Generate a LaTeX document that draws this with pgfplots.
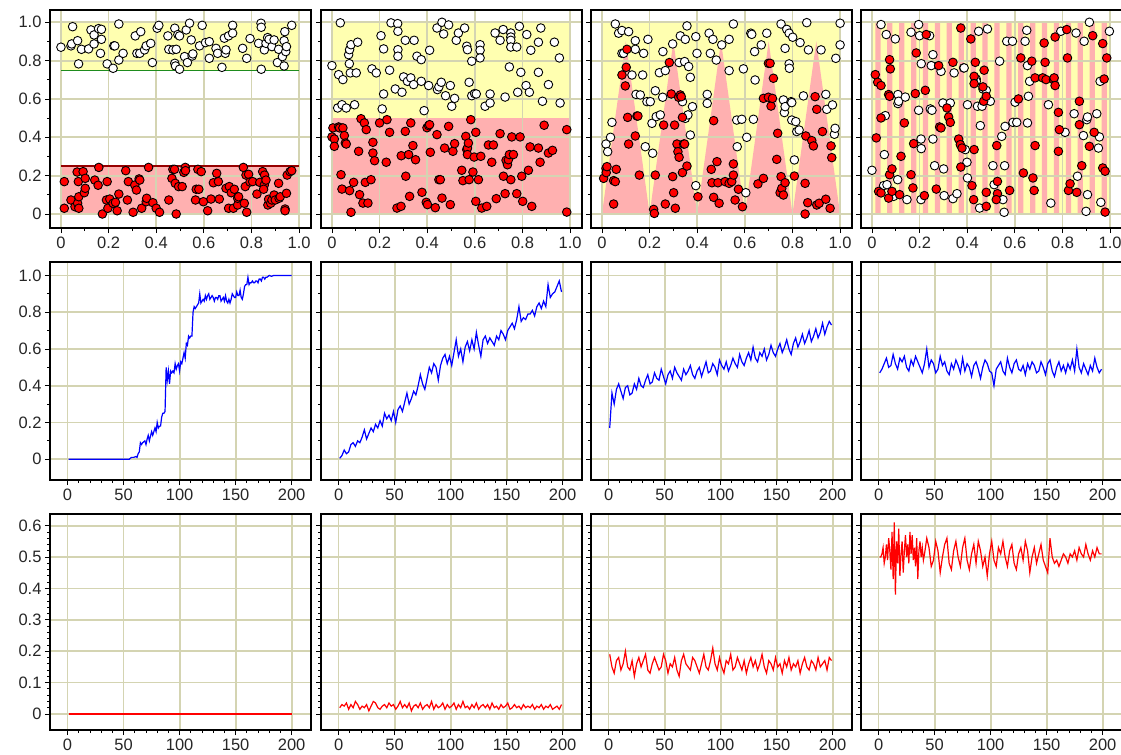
\documentclass[border=0pt]{standalone}
\usepackage{fontspec}
\setmainfont{Liberation Sans}
\usepackage{pgfplots}
\pgfplotsset{compat=1.18}
\definecolor{yel}{RGB}{255,255,176}
\definecolor{pnk}{RGB}{255,176,176}
\definecolor{gridc}{RGB}{212,212,178}
\definecolor{grn}{RGB}{30,140,30}
\definecolor{dred}{RGB}{150,0,0}
\pgfplotsset{
  base/.style={scale only axis, width=261bp, anchor=north west,
    axis line style={line width=2.6bp, black},
    grid=major, major grid style={color=gridc, line width=1.8bp},
    tick align=outside, tick pos=left,
    major tick length=5bp, minor tick length=3bp,
    every tick/.style={black, line width=0.8bp},
    tick label style={font=\fontsize{16.5bp}{18bp}\selectfont, color=black!85},
    /pgf/number format/assume math mode=true,
    set layers=standard},
  row1/.style={base, height=218bp, xmin=-0.046, xmax=1.05, ymin=-0.073, ymax=1.064,
    xtick={0,0.2,0.4,0.6,0.8,1}, xticklabels={0,0.2,0.4,0.6,0.8,1.0},
    ytick={0,0.2,0.4,0.6,0.8,1}, yticklabels={0,0.2,0.4,0.6,0.8,1.0},
    minor x tick num=1, minor y tick num=1},
  row2/.style={base, height=218bp, xmin=-15.7, xmax=217.3, ymin=-0.113, ymax=1.073,
    xtick={0,50,100,150,200}, minor x tick num=4,
    ytick={0,0.2,0.4,0.6,0.8,1}, yticklabels={0,0.2,0.4,0.6,0.8,1.0}, minor y tick num=1},
  row3/.style={base, height=216bp, xmin=-15.7, xmax=217.3, ymin=-0.051, ymax=0.637,
    xtick={0,50,100,150,200}, minor x tick num=4,
    ytick={0,0.1,0.2,0.3,0.4,0.5,0.6}, yticklabels={0,0.1,0.2,0.3,0.4,0.5,0.6}, minor y tick num=4},
  nolab/.style={yticklabels={}},
  wpt/.style={only marks, mark=*, mark size=4.3bp, mark options={fill=white, draw=black, line width=0.9bp}},
  rpt/.style={only marks, mark=*, mark size=4.3bp, mark options={fill=red, draw=black, line width=0.9bp}},
  bg/.style={on layer=axis background, draw=none},
  bl/.style={blue, line width=1.2bp, mark=none},
  rl/.style={red, line width=1.2bp, mark=none},
}
\begin{document}
\begin{tikzpicture}
% ---------------- Row 1 ----------------
\begin{axis}[row1, at={(50bp,-10bp)}]
\addplot[bg, fill=yel] coordinates {(0,0.75)(1,0.75)(1,1)(0,1)(0,0.75)};
\addplot[bg, fill=pnk] coordinates {(0,0)(1,0)(1,0.25)(0,0.25)(0,0)};
\addplot[grn, line width=1.3bp] coordinates {(0,0.75)(1,0.75)};
\addplot[dred, line width=1.3bp] coordinates {(0,0.25)(1,0.25)};
\addplot[wpt] coordinates {(0,0.870)(0.042,0.877)(0.045,0.887)(0.049,0.977)(0.070,0.904)(0.074,0.783)(0.086,0.859)(0.116,0.861)(0.126,0.960)(0.139,0.934)(0.139,0.887)(0.158,0.967)(0.166,0.838)(0.170,0.911)(0.170,0.963)(0.194,0.783)(0.219,0.760)(0.222,0.877)(0.226,0.877)(0.243,0.991)(0.243,0.803)(0.261,0.838)(0.312,0.929)(0.319,0.838)(0.331,0.838)(0.335,0.951)(0.351,0.856)(0.358,0.877)(0.377,0.890)(0.384,0.790)(0.404,0.969)(0.411,0.984)(0.449,0.929)(0.453,0.859)(0.470,0.856)(0.478,0.969)(0.478,0.786)(0.481,0.772)(0.484,0.859)(0.491,0.936)(0.498,0.755)(0.498,0.929)(0.519,0.821)(0.526,0.960)(0.531,0.790)(0.540,0.995)(0.547,0.908)(0.551,0.824)(0.554,0.835)(0.582,0.877)(0.593,0.984)(0.607,0.894)(0.623,0.899)(0.623,0.812)(0.651,0.864)(0.658,0.838)(0.676,0.765)(0.686,0.917)(0.690,0.838)(0.693,0.856)(0.704,0.929)(0.721,0.984)(0.721,0.943)(0.763,0.864)(0.780,0.812)(0.794,0.915)(0.830,0.890)(0.840,0.995)(0.841,0.974)(0.841,0.755)(0.854,0.856)(0.861,0.890)(0.868,0.920)(0.874,0.911)(0.886,0.873)(0.895,0.908)(0.909,0.790)(0.914,0.859)(0.937,0.904)(0.930,0.821)(0.937,0.772)(0.940,0.951)(0.944,0.847)(0.947,0.873)(0.969,0.984)};
\addplot[rpt] coordinates {(0.014,0.169)(0.014,0.030)(0.042,0.073)(0.059,0.038)(0.068,0.219)(0.070,0.056)(0.073,0.169)(0.075,0.090)(0.075,0.030)(0.093,0.221)(0.098,0.111)(0.102,0.186)(0.102,0.134)(0.159,0.243)(0.142,0.177)(0.156,0.150)(0.174,0.0)(0.191,0.073)(0.194,0.169)(0.197,0.030)(0.205,0.078)(0.219,0.056)(0.229,0.061)(0.236,0.017)(0.243,0.104)(0.272,0.226)(0.279,0.073)(0.283,0.169)(0.303,0.009)(0.310,0.151)(0.317,0.125)(0.328,0.183)(0.331,0.177)(0.339,0.030)(0.358,0.064)(0.360,0.082)(0.368,0.243)(0.386,0.059)(0.400,0.030)(0.414,0.009)(0.453,0.073)(0.466,0.186)(0.470,0.233)(0.477,0.233)(0.480,0.160)(0.484,0.0)(0.494,0.143)(0.509,0.143)(0.516,0.217)(0.522,0.243)(0.523,0.226)(0.565,0.073)(0.568,0.129)(0.575,0.233)(0.579,0.129)(0.589,0.221)(0.598,0.064)(0.616,0.017)(0.630,0.078)(0.640,0.163)(0.654,0.212)(0.661,0.169)(0.665,0.078)(0.693,0.134)(0.704,0.030)(0.707,0.143)(0.715,0.111)(0.724,0.030)(0.728,0.129)(0.742,0.047)(0.742,0.082)(0.746,0.090)(0.766,0.243)(0.770,0.056)(0.774,0.143)(0.777,0.203)(0.780,0.009)(0.788,0.207)(0.794,0.167)(0.805,0.169)(0.823,0.104)(0.835,0.165)(0.847,0.221)(0.854,0.151)(0.851,0.129)(0.855,0.203)(0.861,0.177)(0.869,0.047)(0.872,0.077)(0.881,0.056)(0.886,0.073)(0.895,0.099)(0.900,0.073)(0.914,0.160)(0.916,0.082)(0.921,0.090)(0.941,0.026)(0.941,0.017)(0.947,0.108)(0.950,0.203)(0.962,0.221)(0.969,0.226)};
\end{axis}
\begin{axis}[row1, nolab, at={(321bp,-10bp)}]
\addplot[bg, fill=yel] coordinates {(0,0.5)(1,0.5)(1,1)(0,1)(0,0.5)};
\addplot[bg, fill=pnk] coordinates {(0,0)(1,0)(1,0.5)(0,0.5)(0,0)};
\addplot[wpt] coordinates {(0.035,0.997)(0.000,0.774)(0.028,0.727)(0.046,0.701)(0.070,0.831)(0.073,0.784)(0.074,0.857)(0.080,0.883)(0.077,0.736)(0.102,0.736)(0.108,0.896)(0.024,0.553)(0.042,0.570)(0.060,0.553)(0.095,0.570)(0.168,0.757)(0.186,0.736)(0.206,0.930)(0.217,0.861)(0.217,0.626)(0.211,0.548)(0.242,0.750)(0.248,0.997)(0.266,0.652)(0.276,0.993)(0.277,0.953)(0.277,0.857)(0.277,0.823)(0.294,0.635)(0.301,0.715)(0.308,0.906)(0.317,0.692)(0.331,0.710)(0.343,0.675)(0.345,0.906)(0.357,0.823)(0.375,0.805)(0.375,0.692)(0.387,0.539)(0.406,0.670)(0.410,0.854)(0.441,0.970)(0.443,0.649)(0.449,0.663)(0.459,0.687)(0.462,1.0)(0.469,0.939)(0.477,0.617)(0.490,0.986)(0.497,0.670)(0.503,0.562)(0.515,0.603)(0.522,0.906)(0.531,0.944)(0.557,0.970)(0.566,0.875)(0.569,0.857)(0.576,0.687)(0.587,0.797)(0.587,0.617)(0.599,0.628)(0.606,0.626)(0.622,0.883)(0.622,0.854)(0.622,0.814)(0.643,0.562)(0.664,0.626)(0.664,0.579)(0.685,0.944)(0.706,0.906)(0.719,0.962)(0.727,0.610)(0.745,0.767)(0.751,0.944)(0.751,0.923)(0.751,0.906)(0.751,0.871)(0.776,0.871)(0.780,0.635)(0.787,0.979)(0.793,0.739)(0.815,0.670)(0.818,0.936)(0.829,0.635)(0.835,0.854)(0.867,0.896)(0.867,0.739)(0.877,0.970)(0.884,0.588)(0.909,0.675)(0.934,0.896)(0.955,0.814)(0.958,0.579)};
\addplot[rpt] coordinates {(0.0,0.402)(0.004,0.449)(0.010,0.391)(0.010,0.353)(0.028,0.454)(0.032,0.449)(0.038,0.205)(0.042,0.130)(0.046,0.449)(0.052,0.409)(0.056,0.370)(0.060,0.365)(0.074,0.122)(0.080,0.009)(0.091,0.165)(0.112,0.327)(0.116,0.101)(0.122,0.497)(0.130,0.057)(0.136,0.475)(0.140,0.165)(0.144,0.440)(0.151,0.057)(0.164,0.179)(0.172,0.374)(0.172,0.318)(0.179,0.278)(0.200,0.475)(0.228,0.270)(0.231,0.492)(0.242,0.426)(0.273,0.031)(0.290,0.040)(0.291,0.304)(0.308,0.431)(0.310,0.197)(0.322,0.310)(0.326,0.092)(0.331,0.475)(0.340,0.357)(0.351,0.283)(0.378,0.113)(0.396,0.061)(0.399,0.450)(0.401,0.049)(0.406,0.461)(0.410,0.466)(0.413,0.322)(0.434,0.033)(0.441,0.414)(0.449,0.179)(0.455,0.179)(0.462,0.083)(0.473,0.344)(0.490,0.457)(0.497,0.049)(0.508,0.327)(0.515,0.367)(0.545,0.228)(0.550,0.174)(0.562,0.405)(0.566,0.336)(0.569,0.344)(0.569,0.310)(0.573,0.370)(0.576,0.179)(0.583,0.492)(0.592,0.219)(0.597,0.297)(0.604,0.426)(0.604,0.066)(0.615,0.179)(0.625,0.301)(0.629,0.031)(0.650,0.040)(0.657,0.360)(0.671,0.270)(0.678,0.360)(0.690,0.080)(0.706,0.419)(0.720,0.197)(0.727,0.106)(0.731,0.280)(0.737,0.257)(0.741,0.283)(0.745,0.310)(0.751,0.179)(0.755,0.402)(0.762,0.310)(0.776,0.106)(0.790,0.402)(0.797,0.197)(0.801,0.066)(0.825,0.228)(0.832,0.350)(0.839,0.040)(0.867,0.344)(0.874,0.270)(0.891,0.463)(0.909,0.318)(0.926,0.332)(0.986,0.440)(0.986,0.010)};
\end{axis}
\begin{axis}[row1, nolab, at={(591bp,-10bp)}]
\addplot[bg, fill=yel] coordinates {(0,0)(1,0)(1,1)(0,1)(0,0)};
\addplot[bg, fill=pnk] coordinates {(0,0)(0.1,0.9)(0.2,0)(0.3,0.9)(0.4,0)(0.5,0.9)(0.6,0)(0.7,0.9)(0.8,0)(0.9,0.9)(1,0)(0,0)};
\addplot[wpt] coordinates {(0.017,0.365)(0.024,0.325)(0.036,0.400)(0.042,0.478)(0.056,0.991)(0.070,0.943)(0.084,0.957)(0.084,0.838)(0.091,0.838)(0.112,0.951)(0.126,0.725)(0.140,0.904)(0.140,0.859)(0.143,0.624)(0.161,0.621)(0.171,0.725)(0.175,0.838)(0.182,0.351)(0.189,0.586)(0.193,0.911)(0.203,0.586)(0.210,0.473)(0.213,0.317)(0.224,0.643)(0.228,0.508)(0.241,0.737)(0.245,0.517)(0.255,0.609)(0.256,0.847)(0.266,0.748)(0.297,0.887)(0.324,0.790)(0.329,0.929)(0.338,0.586)(0.347,0.795)(0.350,0.911)(0.357,0.981)(0.350,0.499)(0.361,0.517)(0.364,0.769)(0.371,0.713)(0.371,0.412)(0.380,0.560)(0.394,0.925)(0.394,0.148)(0.399,0.838)(0.442,0.624)(0.442,0.577)(0.450,0.943)(0.455,0.838)(0.466,0.911)(0.480,0.803)(0.503,0.882)(0.534,0.748)(0.534,0.911)(0.552,0.991)(0.566,0.490)(0.568,0.351)(0.587,0.494)(0.594,0.757)(0.608,0.400)(0.604,0.111)(0.625,0.943)(0.629,0.937)(0.636,0.494)(0.641,0.847)(0.643,0.699)(0.669,0.882)(0.692,0.943)(0.752,0.991)(0.762,0.595)(0.766,0.529)(0.769,0.864)(0.769,0.560)(0.776,0.963)(0.786,0.943)(0.786,0.783)(0.787,0.760)(0.794,0.586)(0.797,0.581)(0.797,0.490)(0.801,0.922)(0.808,0.282)(0.814,0.482)(0.818,0.430)(0.828,0.438)(0.832,0.894)(0.846,0.616)(0.860,0.998)(0.867,0.856)(0.920,0.856)(0.944,0.546)(0.940,0.624)(0.968,0.569)(0.976,0.416)(0.979,0.447)(0.982,0.812)(1.000,0.995)(1.000,0.882)};
\addplot[rpt] coordinates {(0.007,0.186)(0.017,0.238)(0.018,0.216)(0.021,0.247)(0.049,0.174)(0.056,0.169)(0.060,0.233)(0.049,0.052)(0.084,0.725)(0.098,0.668)(0.102,0.765)(0.105,0.859)(0.108,0.504)(0.112,0.365)(0.140,0.407)(0.147,0.511)(0.151,0.511)(0.157,0.203)(0.217,0.024)(0.220,0.003)(0.224,0.203)(0.259,0.464)(0.266,0.052)(0.283,0.790)(0.291,0.626)(0.297,0.195)(0.301,0.111)(0.305,0.464)(0.308,0.030)(0.315,0.365)(0.319,0.325)(0.322,0.609)(0.324,0.296)(0.329,0.621)(0.333,0.612)(0.338,0.504)(0.338,0.216)(0.343,0.365)(0.347,0.365)(0.357,0.250)(0.403,0.090)(0.459,0.233)(0.462,0.163)(0.469,0.487)(0.469,0.087)(0.483,0.273)(0.487,0.163)(0.492,0.056)(0.517,0.169)(0.534,0.160)(0.545,0.169)(0.552,0.261)(0.552,0.203)(0.559,0.073)(0.573,0.129)(0.590,0.038)(0.655,0.157)(0.678,0.186)(0.678,0.603)(0.699,0.609)(0.699,0.786)(0.706,0.786)(0.710,0.563)(0.716,0.603)(0.720,0.708)(0.734,0.285)(0.738,0.421)(0.748,0.111)(0.752,0.195)(0.755,0.134)(0.762,0.099)(0.769,0.163)(0.808,0.198)(0.856,0.407)(0.853,0.160)(0.864,0.059)(0.881,0.383)(0.888,0.355)(0.895,0.612)(0.902,0.546)(0.902,0.047)(0.912,0.056)(0.926,0.430)(0.940,0.077)(0.958,0.030)(0.962,0.355)(0.965,0.294)(0.853,0.0)};
\end{axis}
\begin{axis}[row1, nolab, at={(861bp,-10bp)}]
\addplot[bg, fill=yel] coordinates {(0,0)(1,0)(1,1)(0,1)(0,0)};
\addplot[bg, fill=pnk] coordinates {(0.014,0)(0.014,1)(0.036,1)(0.036,0)(0.064,0)(0.064,1)(0.086,1)(0.086,0)(0.114,0)(0.114,1)(0.136,1)(0.136,0)(0.164,0)(0.164,1)(0.186,1)(0.186,0)(0.214,0)(0.214,1)(0.236,1)(0.236,0)(0.264,0)(0.264,1)(0.286,1)(0.286,0)(0.314,0)(0.314,1)(0.336,1)(0.336,0)(0.364,0)(0.364,1)(0.386,1)(0.386,0)(0.414,0)(0.414,1)(0.436,1)(0.436,0)(0.464,0)(0.464,1)(0.486,1)(0.486,0)(0.514,0)(0.514,1)(0.536,1)(0.536,0)(0.564,0)(0.564,1)(0.586,1)(0.586,0)(0.614,0)(0.614,1)(0.636,1)(0.636,0)(0.664,0)(0.664,1)(0.686,1)(0.686,0)(0.714,0)(0.714,1)(0.736,1)(0.736,0)(0.764,0)(0.764,1)(0.786,1)(0.786,0)(0.814,0)(0.814,1)(0.836,1)(0.836,0)(0.864,0)(0.864,1)(0.886,1)(0.886,0)(0.914,0)(0.914,1)(0.936,1)(0.936,0)(0.964,0)(0.964,1)(0.986,1)(0.986,0)(0.014,0)};
\addplot[wpt] coordinates {(0.0,0.228)(0.038,0.988)(0.049,0.148)(0.052,0.310)(0.060,0.936)(0.063,0.153)(0.056,0.513)(0.091,0.092)(0.098,0.913)(0.109,0.623)(0.109,0.576)(0.112,0.588)(0.108,0.179)(0.140,0.610)(0.147,0.075)(0.164,0.948)(0.196,0.988)(0.196,0.541)(0.200,0.930)(0.206,0.391)(0.207,0.341)(0.207,0.784)(0.206,0.075)(0.242,0.930)(0.245,0.548)(0.249,0.774)(0.252,0.541)(0.256,0.391)(0.256,0.831)(0.263,0.252)(0.298,0.579)(0.290,0.744)(0.301,0.235)(0.303,0.096)(0.329,0.579)(0.340,0.080)(0.345,0.736)(0.357,0.106)(0.385,0.762)(0.387,0.762)(0.399,0.270)(0.401,0.570)(0.401,0.188)(0.392,0.336)(0.438,0.704)(0.438,0.692)(0.448,0.953)(0.443,0.562)(0.452,0.031)(0.455,0.461)(0.462,0.562)(0.466,0.652)(0.480,0.645)(0.485,0.965)(0.497,0.588)(0.508,0.252)(0.513,0.153)(0.536,0.797)(0.545,0.405)(0.550,0.075)(0.555,0.009)(0.557,0.252)(0.559,0.457)(0.566,0.901)(0.590,0.901)(0.592,0.478)(0.601,0.583)(0.608,0.478)(0.643,0.901)(0.650,0.958)(0.653,0.475)(0.653,0.774)(0.657,0.614)(0.662,0.692)(0.751,0.057)(0.741,0.570)(0.793,0.953)(0.811,0.426)(0.849,0.523)(0.857,0.944)(0.863,0.197)(0.891,0.901)(0.888,0.409)(0.902,0.492)(0.905,0.506)(0.905,0.101)(0.899,0.014)(0.913,1.0)(0.944,0.523)(0.951,0.344)(0.955,0.402)(0.958,0.692)(0.961,0.061)(0.997,0.953)};
\addplot[rpt] coordinates {(0.014,0.727)(0.018,0.397)(0.024,0.687)(0.028,0.118)(0.038,0.670)(0.038,0.110)(0.038,0.501)(0.070,0.083)(0.070,0.623)(0.074,0.614)(0.074,0.805)(0.077,0.757)(0.074,0.205)(0.084,0.235)(0.084,0.118)(0.116,0.101)(0.122,0.301)(0.136,0.475)(0.164,0.205)(0.172,0.136)(0.175,0.367)(0.182,0.628)(0.186,0.840)(0.220,0.096)(0.224,0.645)(0.228,0.936)(0.270,0.130)(0.280,0.774)(0.284,0.454)(0.290,0.449)(0.315,0.553)(0.322,0.506)(0.329,0.478)(0.340,0.791)(0.364,0.391)(0.371,0.362)(0.373,0.245)(0.378,0.344)(0.373,0.970)(0.415,0.913)(0.420,0.148)(0.427,0.075)(0.429,0.336)(0.434,0.791)(0.429,0.718)(0.429,0.680)(0.466,0.663)(0.471,0.750)(0.469,0.588)(0.480,0.113)(0.480,0.614)(0.480,0.040)(0.524,0.357)(0.527,0.106)(0.527,0.170)(0.522,0.075)(0.578,0.123)(0.615,0.600)(0.625,0.814)(0.636,0.214)(0.671,0.797)(0.676,0.188)(0.681,0.123)(0.685,0.357)(0.685,0.710)(0.717,0.710)(0.727,0.791)(0.723,0.892)(0.731,0.701)(0.762,0.701)(0.765,0.710)(0.769,0.670)(0.769,0.923)(0.783,0.530)(0.787,0.440)(0.783,0.327)(0.818,0.962)(0.821,0.814)(0.825,0.123)(0.832,0.158)(0.860,0.113)(0.871,0.588)(0.871,0.466)(0.881,0.252)(0.913,0.353)(0.927,0.930)(0.933,0.426)(0.969,0.889)(0.975,0.704)(0.969,0.240)(0.979,0.223)(0.979,0.010)(0.986,0.814)};
\end{axis}
% ---------------- Row 2 ----------------
\begin{axis}[row2, at={(50bp,-262bp)}]
\addplot[bl] coordinates {(1,0)(55,0)(57,0.01)(59,0.01)(61,0.015)(62,0.01)(63,0.03)(64,0.04)(65,0.09)(66,0.08)(67,0.09)(69,0.10)(70,0.08)(71,0.11)(72,0.13)(73,0.10)(75,0.15)(76,0.13)(77,0.15)(78,0.17)(79,0.15)(80,0.20)(81,0.17)(82,0.18)(83,0.18)(84,0.23)(85,0.25)(86,0.25)(87,0.26)(88,0.50)(89,0.43)(90,0.48)(91,0.41)(92,0.48)(93,0.47)(94,0.48)(95,0.47)(96,0.52)(97,0.49)(98,0.51)(99,0.52)(100,0.48)(101,0.53)(102,0.52)(103,0.55)(104,0.58)(105,0.55)(106,0.63)(107,0.62)(108,0.67)(109,0.66)(110,0.67)(111,0.67)(112,0.80)(113,0.83)(114,0.82)(115,0.83)(116,0.84)(117,0.85)(118,0.90)(119,0.85)(120,0.86)(121,0.87)(122,0.86)(123,0.89)(124,0.87)(125,0.89)(126,0.90)(127,0.87)(128,0.88)(129,0.89)(130,0.88)(131,0.86)(132,0.88)(133,0.88)(134,0.87)(135,0.89)(136,0.89)(137,0.86)(138,0.87)(139,0.88)(140,0.86)(141,0.89)(142,0.86)(143,0.85)(144,0.87)(145,0.85)(146,0.87)(147,0.90)(148,0.89)(149,0.88)(150,0.88)(151,0.91)(152,0.89)(153,0.89)(154,0.92)(155,0.88)(156,0.87)(157,0.90)(158,0.94)(159,0.95)(160,0.95)(161,0.99)(162,0.95)(163,0.96)(164,0.96)(165,0.97)(166,0.96)(167,0.96)(168,0.97)(169,0.97)(170,0.96)(171,0.98)(172,0.98)(173,0.97)(174,0.99)(175,0.99)(176,0.98)(177,0.99)(178,0.99)(179,0.995)(180,1.0)(182,0.995)(184,1.0)(200,1.0)};
\end{axis}
\begin{axis}[row2, nolab, at={(321bp,-262bp)}]
\addplot[bl] coordinates {(1,0.005)(3,0.02)(5,0.05)(7,0.03)(9,0.04)(11,0.08)(13,0.09)(15,0.07)(17,0.10)(19,0.09)(21,0.12)(23,0.16)(25,0.11)(27,0.14)(29,0.17)(31,0.15)(33,0.19)(35,0.17)(37,0.21)(39,0.18)(41,0.25)(43,0.22)(45,0.24)(47,0.21)(49,0.26)(51,0.20)(53,0.27)(55,0.29)(57,0.26)(59,0.31)(61,0.36)(63,0.30)(65,0.33)(67,0.37)(69,0.35)(71,0.40)(73,0.46)(75,0.41)(77,0.38)(79,0.44)(81,0.50)(83,0.47)(85,0.52)(87,0.50)(89,0.43)(91,0.51)(93,0.55)(95,0.57)(97,0.52)(99,0.56)(101,0.51)(103,0.58)(105,0.65)(107,0.56)(109,0.60)(111,0.53)(113,0.61)(115,0.64)(117,0.59)(119,0.65)(121,0.60)(123,0.69)(125,0.62)(127,0.56)(129,0.65)(131,0.67)(133,0.63)(135,0.66)(137,0.64)(139,0.62)(141,0.67)(143,0.65)(145,0.70)(147,0.68)(149,0.65)(151,0.70)(153,0.72)(155,0.74)(157,0.71)(159,0.76)(161,0.83)(163,0.75)(165,0.77)(167,0.76)(169,0.79)(171,0.79)(173,0.81)(175,0.78)(177,0.83)(179,0.85)(181,0.82)(183,0.86)(185,0.83)(187,0.95)(189,0.88)(191,0.90)(193,0.91)(195,0.94)(197,0.97)(199,0.91)};
\end{axis}
\begin{axis}[row2, nolab, at={(591bp,-262bp)}]
\addplot[bl] coordinates {(1,0.17)(3,0.36)(5,0.30)(7,0.38)(9,0.41)(11,0.37)(13,0.33)(15,0.39)(17,0.40)(19,0.35)(21,0.36)(23,0.41)(25,0.38)(27,0.44)(29,0.40)(31,0.39)(33,0.43)(35,0.46)(37,0.41)(39,0.42)(41,0.47)(43,0.44)(45,0.43)(47,0.49)(49,0.45)(51,0.41)(53,0.46)(55,0.48)(57,0.44)(59,0.50)(61,0.47)(63,0.45)(65,0.43)(67,0.49)(69,0.46)(71,0.48)(73,0.51)(75,0.46)(77,0.44)(79,0.48)(81,0.50)(83,0.45)(85,0.49)(87,0.53)(89,0.47)(91,0.48)(93,0.52)(95,0.50)(97,0.46)(99,0.54)(101,0.51)(103,0.49)(105,0.53)(107,0.48)(109,0.51)(111,0.55)(113,0.52)(115,0.50)(117,0.57)(119,0.53)(121,0.51)(123,0.55)(125,0.58)(127,0.54)(129,0.61)(131,0.55)(133,0.53)(135,0.58)(137,0.56)(139,0.60)(141,0.54)(143,0.57)(145,0.62)(147,0.58)(149,0.56)(151,0.60)(153,0.63)(155,0.58)(157,0.61)(159,0.65)(161,0.60)(163,0.57)(165,0.63)(167,0.66)(169,0.61)(171,0.64)(173,0.68)(175,0.63)(177,0.66)(179,0.70)(181,0.64)(183,0.67)(185,0.71)(187,0.66)(189,0.69)(191,0.74)(193,0.68)(195,0.72)(197,0.75)(199,0.73)};
\end{axis}
\begin{axis}[row2, nolab, at={(861bp,-262bp)}]
\addplot[bl] coordinates {(1,0.47)(3,0.49)(5,0.52)(7,0.55)(9,0.50)(11,0.51)(13,0.57)(15,0.52)(17,0.49)(19,0.55)(21,0.53)(23,0.56)(25,0.50)(27,0.48)(29,0.54)(31,0.51)(33,0.56)(35,0.53)(37,0.50)(39,0.47)(41,0.52)(43,0.60)(45,0.50)(47,0.54)(49,0.52)(51,0.47)(53,0.49)(55,0.56)(57,0.51)(59,0.53)(61,0.48)(63,0.46)(65,0.52)(67,0.49)(69,0.54)(71,0.51)(73,0.47)(75,0.55)(77,0.48)(79,0.52)(81,0.50)(83,0.45)(85,0.51)(87,0.53)(89,0.49)(91,0.44)(93,0.50)(95,0.54)(97,0.52)(99,0.48)(101,0.47)(103,0.40)(105,0.49)(107,0.51)(109,0.53)(111,0.48)(113,0.46)(115,0.55)(117,0.50)(119,0.47)(121,0.52)(123,0.54)(125,0.49)(127,0.48)(129,0.51)(131,0.46)(133,0.52)(135,0.49)(137,0.53)(139,0.51)(141,0.47)(143,0.48)(145,0.53)(147,0.50)(149,0.46)(151,0.52)(153,0.54)(155,0.48)(157,0.45)(159,0.50)(161,0.53)(163,0.48)(165,0.51)(167,0.47)(169,0.52)(171,0.49)(173,0.54)(175,0.48)(177,0.60)(179,0.50)(181,0.47)(183,0.52)(185,0.49)(187,0.46)(189,0.51)(191,0.48)(193,0.55)(195,0.50)(197,0.47)(199,0.49)};
\end{axis}
% ---------------- Row 3 ----------------
\begin{axis}[row3, at={(50bp,-514bp)}]
\addplot[rl] coordinates {(1,0)(50,0)(100,0)(150,0)(200,0)};
\end{axis}
\begin{axis}[row3, nolab, at={(321bp,-514bp)}]
\addplot[rl] coordinates {(1,0.02)(3,0.03)(5,0.025)(7,0.035)(9,0.015)(11,0.03)(13,0.02)(15,0.04)(17,0.03)(19,0.015)(21,0.025)(23,0.02)(25,0.03)(27,0.01)(29,0.025)(31,0.04)(33,0.035)(35,0.02)(37,0.015)(39,0.025)(41,0.03)(43,0.02)(45,0.035)(47,0.025)(49,0.03)(51,0.015)(53,0.025)(55,0.04)(57,0.02)(59,0.03)(61,0.02)(63,0.035)(65,0.01)(67,0.025)(69,0.03)(71,0.02)(73,0.035)(75,0.015)(77,0.025)(79,0.03)(81,0.02)(83,0.04)(85,0.015)(87,0.03)(89,0.02)(91,0.025)(93,0.035)(95,0.015)(97,0.03)(99,0.02)(101,0.025)(103,0.035)(105,0.015)(107,0.03)(109,0.02)(111,0.04)(113,0.02)(115,0.025)(117,0.015)(119,0.03)(121,0.02)(123,0.035)(125,0.015)(127,0.025)(129,0.03)(131,0.02)(133,0.03)(135,0.015)(137,0.035)(139,0.02)(141,0.025)(143,0.015)(145,0.03)(147,0.02)(149,0.025)(151,0.035)(153,0.015)(155,0.02)(157,0.03)(159,0.02)(161,0.025)(163,0.015)(165,0.03)(167,0.02)(169,0.025)(171,0.02)(173,0.03)(175,0.015)(177,0.025)(179,0.02)(181,0.03)(183,0.015)(185,0.025)(187,0.02)(189,0.03)(191,0.015)(193,0.02)(195,0.025)(197,0.015)(199,0.03)};
\end{axis}
\begin{axis}[row3, nolab, at={(591bp,-514bp)}]
\addplot[rl] coordinates {(1,0.19)(3,0.15)(5,0.13)(7,0.17)(9,0.18)(11,0.14)(13,0.16)(15,0.20)(17,0.15)(19,0.14)(21,0.17)(23,0.12)(25,0.16)(27,0.18)(29,0.15)(31,0.17)(33,0.19)(35,0.14)(37,0.13)(39,0.16)(41,0.18)(43,0.16)(45,0.14)(47,0.15)(49,0.19)(51,0.17)(53,0.13)(55,0.16)(57,0.15)(59,0.18)(61,0.14)(63,0.12)(65,0.17)(67,0.19)(69,0.16)(71,0.15)(73,0.14)(75,0.18)(77,0.17)(79,0.15)(81,0.13)(83,0.16)(85,0.19)(87,0.15)(89,0.14)(91,0.17)(93,0.21)(95,0.16)(97,0.14)(99,0.18)(101,0.15)(103,0.13)(105,0.17)(107,0.16)(109,0.19)(111,0.14)(113,0.15)(115,0.18)(117,0.16)(119,0.14)(121,0.17)(123,0.13)(125,0.16)(127,0.18)(129,0.15)(131,0.17)(133,0.14)(135,0.16)(137,0.19)(139,0.15)(141,0.13)(143,0.17)(145,0.16)(147,0.14)(149,0.18)(151,0.15)(153,0.16)(155,0.13)(157,0.17)(159,0.15)(161,0.18)(163,0.14)(165,0.16)(167,0.15)(169,0.17)(171,0.13)(173,0.16)(175,0.18)(177,0.15)(179,0.14)(181,0.17)(183,0.16)(185,0.14)(187,0.18)(189,0.15)(191,0.16)(193,0.17)(195,0.14)(197,0.18)(199,0.17)};
\end{axis}
\begin{axis}[row3, nolab, at={(861bp,-514bp)}]
\addplot[rl] coordinates {(1,0.50)(2,0.50)(3,0.51)(4,0.53)(5,0.48)(6,0.50)(7,0.54)(8,0.49)(9,0.56)(10,0.52)(11,0.46)(12,0.58)(13,0.43)(14,0.61)(15,0.38)(16,0.55)(17,0.48)(18,0.59)(19,0.44)(20,0.51)(21,0.55)(22,0.45)(23,0.52)(24,0.57)(25,0.50)(26,0.54)(27,0.48)(28,0.58)(29,0.51)(30,0.57)(31,0.49)(32,0.53)(33,0.47)(34,0.56)(35,0.43)(36,0.52)(37,0.55)(38,0.50)(39,0.53)(40,0.49)(41,0.51)(43,0.56)(45,0.53)(47,0.47)(49,0.49)(51,0.55)(53,0.52)(55,0.45)(57,0.50)(59,0.54)(61,0.56)(63,0.48)(65,0.46)(67,0.52)(69,0.55)(71,0.50)(73,0.47)(75,0.53)(77,0.56)(79,0.49)(81,0.46)(83,0.51)(85,0.54)(87,0.48)(89,0.55)(91,0.52)(93,0.47)(95,0.50)(97,0.44)(99,0.51)(101,0.55)(103,0.49)(105,0.47)(107,0.53)(109,0.51)(111,0.55)(113,0.50)(115,0.47)(117,0.52)(119,0.54)(121,0.48)(123,0.46)(125,0.51)(127,0.53)(129,0.49)(131,0.55)(133,0.52)(135,0.45)(137,0.50)(139,0.53)(141,0.48)(143,0.51)(145,0.54)(147,0.49)(149,0.47)(151,0.45)(153,0.56)(155,0.50)(157,0.48)(159,0.49)(161,0.47)(163,0.49)(165,0.51)(167,0.50)(169,0.48)(171,0.51)(173,0.50)(175,0.52)(177,0.49)(179,0.53)(181,0.51)(183,0.50)(185,0.54)(187,0.51)(189,0.49)(191,0.52)(193,0.50)(195,0.53)(197,0.51)(199,0.51)};
\end{axis}
\pgfresetboundingbox
\path[use as bounding box] (0bp,0bp) rectangle (1121bp,-755bp);
\end{tikzpicture}
\end{document}
